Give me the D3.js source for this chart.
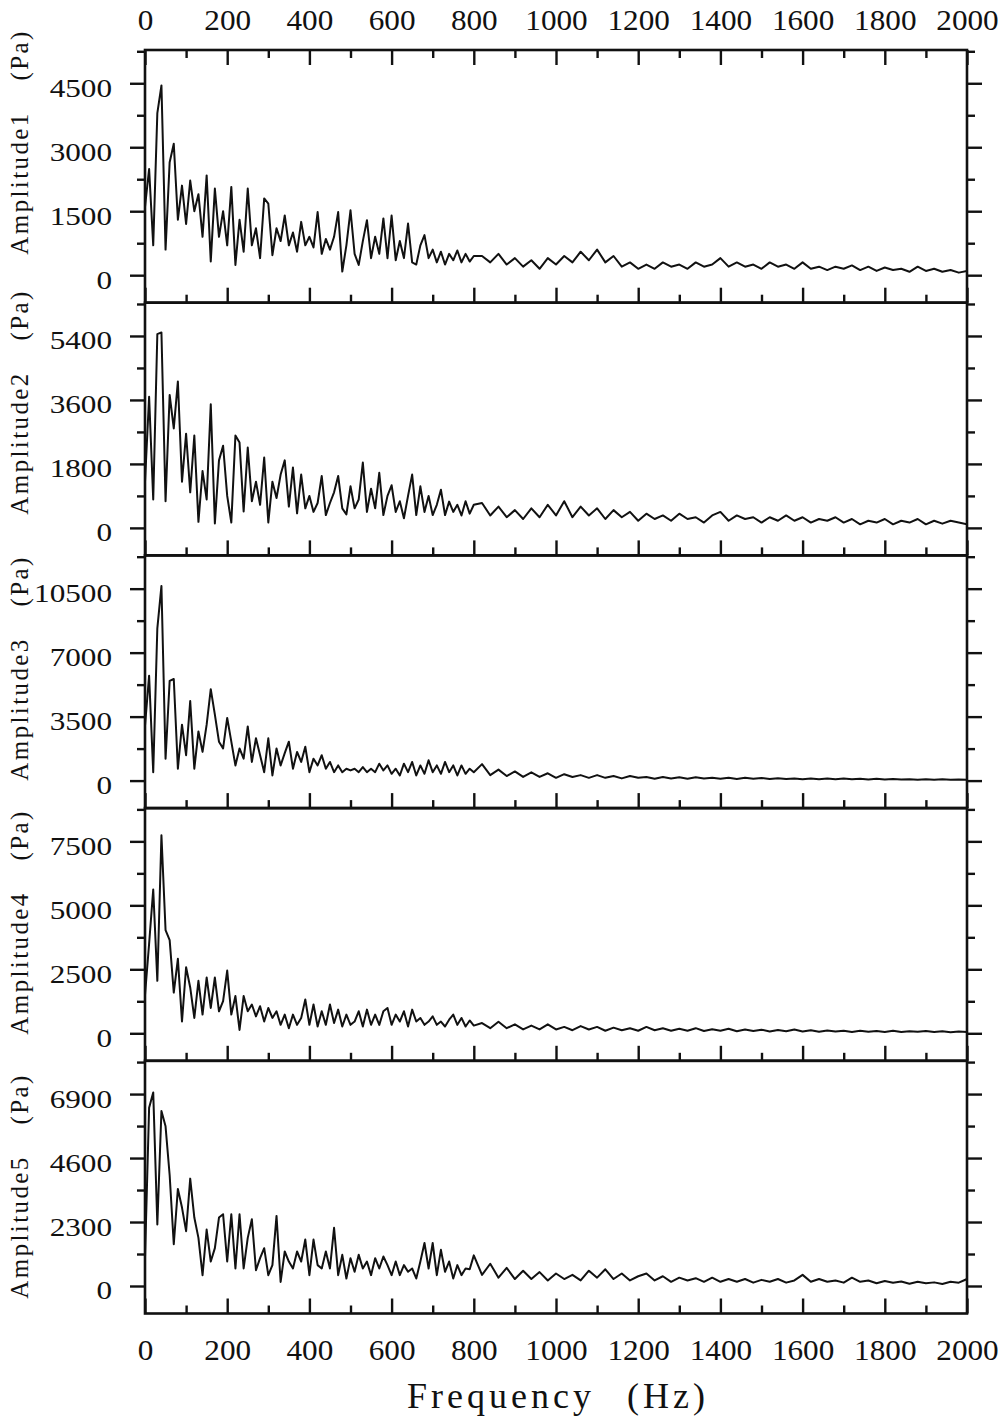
<!DOCTYPE html>
<html><head><meta charset="utf-8">
<script src="https://cdn.jsdelivr.net/npm/d3@7"></script>
<style>body{margin:0;background:#fff}</style></head>
<body><svg id="chart" width="1004" height="1425"></svg>
<script>
// ---- data ----
const freqLow = d3.range(0, 801, 10);      // 0..800 Hz, 10 Hz step
const freqHigh = d3.range(820, 2001, 20);  // 820..2000 Hz, 20 Hz step
const frequency = freqLow.concat(freqHigh);

const amplitude1 = [
  1600, 2490, 700, 3800, 4450, 600, 2650, 3080, 1300, 2100,
  1200, 2220, 1500, 1900, 900, 2340, 320, 2030, 900, 1500,
  700, 2070, 240, 1300, 550, 2030, 700, 1100, 400, 1800,
  1680, 470, 1100, 800, 1400, 700, 1000, 550, 1250, 700,
  900, 650, 1480, 500, 850, 600, 900, 1480, 85, 700,
  1520, 500, 240, 800, 1290, 400, 900, 500, 1330, 400,
  1400, 350, 800, 400, 1210, 300, 250, 700, 940, 400,
  600, 300, 550, 250, 500, 350, 580, 300, 500, 320,
  450,
  450, 300, 500, 250, 400, 200, 350, 150, 400, 250,
  450, 300, 550, 350, 600, 300, 450, 200, 300, 150,
  250, 150, 300, 200, 250, 150, 300, 200, 250, 400,
  200, 300, 200, 250, 150, 300, 200, 250, 150, 300,
  150, 200, 120, 200, 150, 230, 120, 200, 100, 180,
  120, 150, 80, 200, 100, 150, 80, 120, 60, 100
];
const amplitude2 = [
  1300, 3690, 800, 5450, 5500, 750, 3740, 2800, 4120, 1300,
  2650, 1000, 2600, 170, 1600, 800, 3480, 124, 1900, 2310,
  900, 150, 2600, 2400, 460, 2260, 750, 1300, 650, 1980,
  150, 1300, 840, 1500, 1900, 600, 1700, 410, 1500, 550,
  900, 450, 700, 1460, 360, 700, 1000, 1460, 550, 380,
  1170, 550, 800, 1840, 450, 1100, 550, 1550, 360, 900,
  1200, 450, 750, 270, 900, 1500, 360, 1170, 450, 900,
  360, 650, 1075, 360, 740, 450, 650, 350, 750, 400,
  650,
  700, 350, 600, 300, 500, 250, 550, 300, 650, 350,
  750, 300, 600, 350, 550, 250, 500, 300, 450, 200,
  400, 250, 350, 200, 400, 250, 300, 150, 350, 450,
  200, 350, 250, 300, 150, 300, 200, 350, 200, 300,
  150, 250, 200, 300, 150, 250, 100, 200, 150, 250,
  100, 200, 150, 250, 100, 200, 120, 200, 150, 100
];
const amplitude3 = [
  3000, 5740, 460, 8330, 10650, 1200, 5460, 5560, 650, 3060,
  1390, 4350, 650, 2690, 1570, 3060, 5000, 3610, 2130, 1760,
  3430, 2130, 830, 1760, 1200, 2960, 1020, 2315, 1390, 460,
  2315, 280, 1760, 830, 1500, 2130, 650, 1570, 1020, 1850,
  460, 1200, 830, 1390, 650, 1020, 460, 830, 460, 650,
  555, 650, 460, 740, 460, 650, 460, 925, 555, 830,
  370, 650, 280, 925, 460, 1020, 280, 830, 370, 1110,
  460, 830, 370, 1020, 460, 830, 280, 830, 370, 650,
  460,
  900, 300, 600, 250, 500, 200, 450, 200, 400, 150,
  350, 200, 300, 150, 300, 150, 250, 120, 250, 150,
  200, 100, 200, 120, 180, 100, 180, 120, 150, 100,
  160, 90, 150, 100, 140, 90, 130, 90, 120, 80,
  120, 80, 110, 70, 110, 70, 100, 60, 100, 60,
  90, 60, 80, 50, 80, 50, 70, 50, 60, 40
];
const amplitude4 = [
  1500, 3500, 5620, 2050, 7740, 4035, 3640, 1590, 2910, 460,
  2580, 1790, 600, 2050, 730, 2180, 990, 2180, 860, 1260,
  2450, 730, 1455, 130, 1455, 860, 1125, 660, 1060, 460,
  990, 600, 860, 330, 730, 200, 730, 330, 600, 1320,
  330, 1125, 265, 860, 330, 1125, 400, 925, 265, 730,
  330, 460, 860, 265, 925, 330, 730, 330, 860, 990,
  330, 730, 460, 860, 265, 925, 460, 600, 330, 460,
  660, 330, 460, 265, 530, 730, 330, 600, 265, 500,
  300,
  400, 200, 450, 200, 350, 150, 300, 150, 350, 150,
  250, 120, 280, 150, 250, 100, 220, 120, 200, 100,
  250, 120, 200, 100, 180, 100, 200, 90, 160, 100,
  180, 80, 150, 90, 140, 70, 130, 80, 150, 70,
  120, 60, 110, 70, 100, 50, 100, 60, 90, 50,
  100, 50, 80, 60, 90, 50, 80, 40, 70, 50
];
const amplitude5 = [
  1000, 6410, 6960, 2210, 6290, 5740, 3980, 1500, 3490, 2820,
  1970, 3860, 2460, 1730, 390, 2030, 880, 1360, 2460, 2580,
  880, 2580, 630, 2580, 630, 1730, 2400, 570, 1000, 1360,
  390, 750, 2520, 146, 1240, 880, 630, 1240, 880, 1670,
  390, 1670, 750, 630, 1240, 630, 2090, 390, 1120, 270,
  1000, 510, 1120, 630, 880, 390, 1000, 630, 1060, 750,
  390, 880, 390, 750, 510, 630, 270, 880, 1545, 630,
  1545, 390, 1300, 510, 880, 270, 750, 390, 630, 600,
  1100,
  400, 800, 300, 650, 250, 550, 250, 500, 200, 450,
  250, 400, 200, 550, 300, 600, 250, 450, 200, 350,
  450, 200, 350, 150, 300, 200, 280, 150, 300, 150,
  250, 150, 250, 120, 220, 150, 250, 120, 200, 400,
  150, 250, 150, 200, 120, 300, 150, 200, 100, 180,
  120, 160, 80, 150, 100, 130, 70, 150, 120, 250
];

const seriesNames = ["Amplitude1", "Amplitude2", "Amplitude3", "Amplitude4", "Amplitude5"];
const seriesValues = [amplitude1, amplitude2, amplitude3, amplitude4, amplitude5];
const yTickSteps = [1500, 1800, 3500, 2500, 2300];
const xTickValues = [0, 200, 400, 600, 800, 1000, 1200, 1400, 1600, 1800, 2000];
const xMinorValues = [100, 300, 500, 700, 900, 1100, 1300, 1500, 1700, 1900];
const xTitle = "Frequency (Hz)";
const yUnit = "(Pa)";

// ---- layout ----
const plotLeft = 145, plotRight = 967, plotTop = 50, panelH = 252.7;
const titleCenters = [142, 402, 668, 922, 1186];
const serif = "'Liberation Serif', 'Times New Roman', serif";

const svg = d3.select("#chart");
svg.append("rect").attr("width", 1004).attr("height", 1425).attr("fill", "#fff");

const x = d3.scaleLinear().domain([0, 2000]).range([plotLeft, plotRight]);

function styleAxis(g) {
  g.select(".domain").remove();
  g.selectAll(".tick line").attr("stroke", "#111").attr("stroke-width", 2.4);
}

seriesValues.forEach((vals, i) => {
  const y0 = plotTop + i * panelH, y1 = y0 + panelH;
  const s = yTickSteps[i];
  const y = d3.scaleLinear().domain([-0.43 * s, 3.52 * s]).range([y1, y0]);
  const majors = [0, s, 2 * s, 3 * s];
  const minors = [0.5 * s, 1.5 * s, 2.5 * s, 3.5 * s];
  const n = Math.min(vals.length, frequency.length);
  const pts = d3.range(n).map(j => [frequency[j], vals[j]]);

  const clipId = "clip" + i;
  svg.append("clipPath").attr("id", clipId).append("rect")
    .attr("x", plotLeft).attr("y", y0).attr("width", plotRight - plotLeft).attr("height", panelH);

  svg.append("path").datum(pts)
    .attr("clip-path", `url(#${clipId})`)
    .attr("fill", "none").attr("stroke", "#111").attr("stroke-width", 2)
    .attr("stroke-linejoin", "round")
    .attr("d", d3.line().x(d => x(d[0])).y(d => y(d[1])));

  // left axis (outward ticks)
  const la = svg.append("g").attr("transform", `translate(${plotLeft},0)`)
    .call(d3.axisLeft(y).tickValues(majors).tickSize(15).tickPadding(18).tickFormat(d3.format("d")));
  styleAxis(la);
  la.selectAll("text")
    .attr("font-family", serif).attr("font-size", 26).attr("fill", "#111")
    .attr("x", -33 / 1.2).attr("dy", "0.5em")
    .attr("transform", "scale(1.2,1)");
  const lm = svg.append("g").attr("transform", `translate(${plotLeft},0)`)
    .call(d3.axisLeft(y).tickValues(minors).tickSize(8).tickFormat(""));
  styleAxis(lm);

  // right axis (outward ticks, no labels)
  const ra = svg.append("g").attr("transform", `translate(${plotRight},0)`)
    .call(d3.axisRight(y).tickValues(majors).tickSize(15).tickFormat(""));
  styleAxis(ra);
  const rm = svg.append("g").attr("transform", `translate(${plotRight},0)`)
    .call(d3.axisRight(y).tickValues(minors).tickSize(8).tickFormat(""));
  styleAxis(rm);

  // bottom x ticks (inward)
  const bx = svg.append("g").attr("transform", `translate(0,${y1})`)
    .call(d3.axisTop(x).tickValues(xTickValues).tickSize(15).tickFormat(""));
  styleAxis(bx);
  const bxm = svg.append("g").attr("transform", `translate(0,${y1})`)
    .call(d3.axisTop(x).tickValues(xMinorValues).tickSize(8).tickFormat(""));
  styleAxis(bxm);

  if (i === 0) {
    const tx = svg.append("g").attr("transform", `translate(0,${y0})`)
      .call(d3.axisBottom(x).tickValues(xTickValues).tickSize(15).tickFormat(""));
    styleAxis(tx);
    const txm = svg.append("g").attr("transform", `translate(0,${y0})`)
      .call(d3.axisBottom(x).tickValues(xMinorValues).tickSize(8).tickFormat(""));
    styleAxis(txm);
  }

  // frame
  svg.append("rect").attr("x", plotLeft).attr("y", y0)
    .attr("width", plotRight - plotLeft).attr("height", panelH)
    .attr("fill", "none").attr("stroke", "#111").attr("stroke-width", 2.6);

  // y title
  svg.append("text")
    .attr("transform", `translate(28,${titleCenters[i]}) rotate(-90)`)
    .attr("text-anchor", "middle")
    .attr("font-family", serif).attr("font-size", 25)
    .attr("letter-spacing", 2.4).attr("word-spacing", 22)
    .attr("fill", "#111")
    .text(seriesNames[i] + " " + yUnit);
});

// top labels
const topAx = svg.append("g").attr("transform", `translate(0,${plotTop})`)
  .call(d3.axisTop(x).tickValues(xTickValues).tickSize(0).tickPadding(20).tickFormat(d3.format("d")));
topAx.select(".domain").remove();
topAx.selectAll("text").attr("font-family", serif).attr("font-size", 30).attr("fill", "#111")
  .attr("transform", "scale(1.04,1)");

// bottom labels
const bottomY = plotTop + 5 * panelH;
const botAx = svg.append("g").attr("transform", `translate(0,${bottomY})`)
  .call(d3.axisBottom(x).tickValues(xTickValues).tickSize(0).tickPadding(25).tickFormat(d3.format("d")));
botAx.select(".domain").remove();
botAx.selectAll("text").attr("font-family", serif).attr("font-size", 30).attr("fill", "#111")
  .attr("transform", "scale(1.04,1)");

// x title
svg.append("text")
  .attr("x", 407).attr("y", 1408)
  .attr("font-family", serif).attr("font-size", 36)
  .attr("letter-spacing", 4).attr("word-spacing", 19)
  .attr("fill", "#111")
  .text(xTitle);
</script>
</body></html>
